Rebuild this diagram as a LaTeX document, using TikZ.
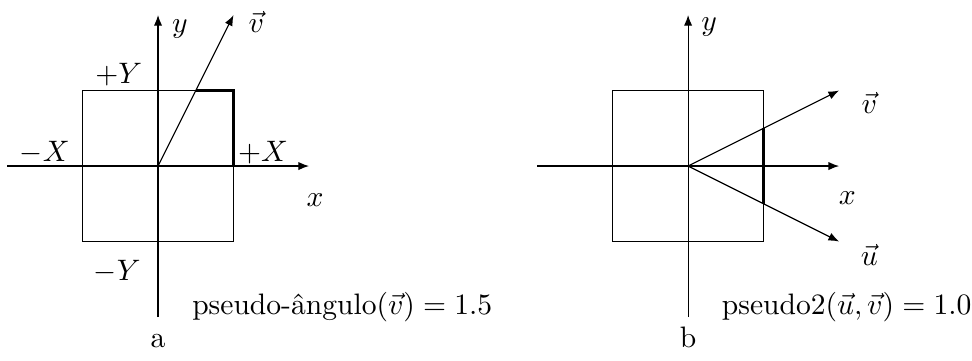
\documentclass[tikz,border=0pt]{standalone}
\usetikzlibrary{arrows.meta}
\begin{document}
\begin{tikzpicture}[x=0.897cm,y=0.897cm,
  axis/.style={-{Latex[length=3.6pt,width=2.8pt]},line width=0.4pt},
  vecarrow/.style={-{Latex[length=3.6pt,width=2.8pt]},line width=0.4pt},
  box/.style={line width=0.4pt},
  hl/.style={line width=1.1pt},
  lbl/.style={inner sep=0pt}]
\useasboundingbox (-2.093,-2.57) rectangle (10.78,2.199);
% ----- figure a -----
\coordinate (oa) at (0,0);
\draw[box] (-1,-1) rectangle (1,1);
\draw[hl] (0.5,1) -- (1,1) -- (1,0);
\coordinate (ax0) at (-2,0); \coordinate (ax1) at (2,0);
\coordinate (ay0) at (0,-2); \coordinate (ay1) at (0,2);
\coordinate (va) at (1,2);
\draw[axis] (ax0) -- (ax1);
\draw[axis] (ay0) -- (ay1);
\draw[vecarrow] (oa) -- (va);
\node[lbl] (ya) at (0.29,1.82) {$y$};
\node[lbl] (vla) at (1.30,1.91) {$\vec{v}$};
\node[lbl] (pY) at (-0.52,1.21) {$+Y$};
\node[lbl] (mX) at (-1.50,0.18) {$-X$};
\node[lbl] (pX) at (1.39,0.18) {$+X$};
\node[lbl] (xa) at (2.08,-0.45) {$x$};
\node[lbl] (mY) at (-0.54,-1.40) {$-Y$};
\node[lbl,anchor=base] (pa) at (2.44,-1.96) {pseudo-ângulo$(\vec{v})=1.5$};
\node[lbl,anchor=base] (la) at (0,-2.40) {a};
% ----- figure b -----
\begin{scope}[shift={(7.02,0)}]
\coordinate (ob) at (0,0);
\draw[box] (-1,-1) rectangle (1,1);
\draw[hl] (1,0.5) -- (1,-0.5);
\coordinate (bx0) at (-2,0); \coordinate (bx1) at (2,0);
\coordinate (by0) at (0,-2); \coordinate (by1) at (0,2);
\coordinate (vb) at (2,1); \coordinate (ub) at (2,-1);
\draw[axis] (bx0) -- (bx1);
\draw[axis] (by0) -- (by1);
\draw[vecarrow] (ob) -- (vb);
\draw[vecarrow] (ob) -- (ub);
\node[lbl] (yb) at (0.28,1.84) {$y$};
\node[lbl] (vlb) at (2.40,0.84) {$\vec{v}$};
\node[lbl] (xb) at (2.11,-0.42) {$x$};
\node[lbl] (ulb) at (2.40,-1.18) {$\vec{u}$};
\node[lbl,anchor=base] (pb) at (2.10,-1.96) {pseudo2$(\vec{u},\vec{v})=1.0$};
\node[lbl,anchor=base] (lb) at (0,-2.40) {b};
\end{scope}
\end{tikzpicture}
\end{document}
